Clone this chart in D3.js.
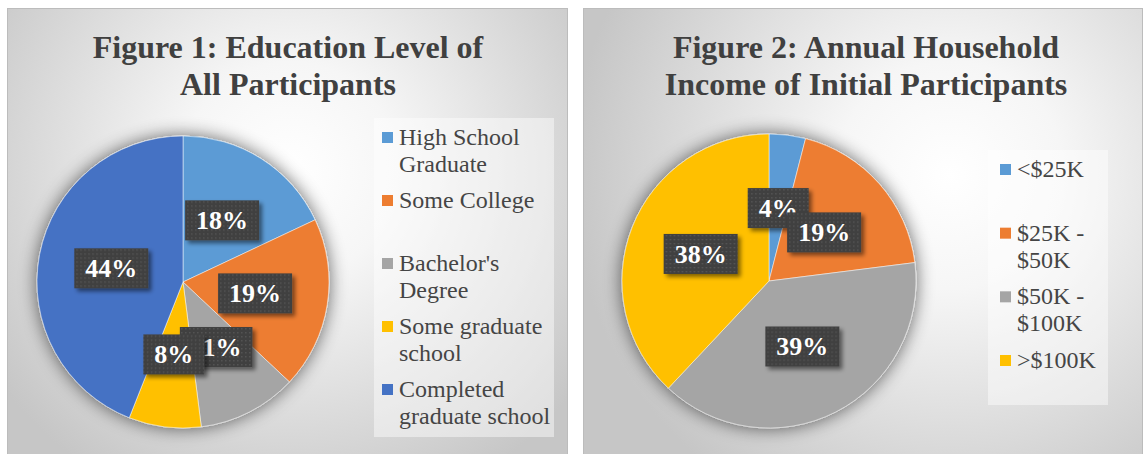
<!DOCTYPE html>
<html>
<head>
<meta charset="utf-8">
<script src="https://cdn.jsdelivr.net/npm/d3@7"></script>
<style>
  body { margin: 0; background: #fff; }
  svg { display: block; }
</style>
</head>
<body>
<div class="canvas"></div>
<script>
// figure 1 data
const eduLabels = ["High School\nGraduate", "Some College", "Bachelor's\nDegree", "Some graduate\nschool", "Completed\ngraduate school"];
const eduValues = [18, 19, 11, 8, 44];
const eduTitle = ["Figure 1: Education Level of", "All Participants"];

// figure 2 data
const incLabels = ["<$25K", "$25K -\n$50K", "$50K -\n$100K", ">$100K"];
const incValues = [4, 19, 39, 38];
const incTitle = ["Figure 2: Annual Household", "Income of Initial Participants"];

const colors = ["#5B9BD5", "#ED7D31", "#A5A5A5", "#FFC000", "#4472C4"];

const W = 1143, H = 454;
const FONT = "'Liberation Serif', 'Times New Roman', Times, 'DejaVu Serif', serif";

const svg = d3.select(".canvas").append("svg")
  .attr("width", W)
  .attr("height", H)
  .attr("font-family", FONT);

const defs = svg.append("defs");

// dotted fill of the data label boxes
const pat = defs.append("pattern")
  .attr("id", "dots")
  .attr("width", 4).attr("height", 4)
  .attr("patternUnits", "userSpaceOnUse");
pat.append("rect").attr("width", 4).attr("height", 4).attr("fill", "#404040");
pat.append("rect").attr("x", 1).attr("y", 1).attr("width", 1.4).attr("height", 1.4).attr("fill", "#575757");

// soft halo under the pies
const halo = defs.append("filter").attr("id", "halo")
  .attr("x", "-25%").attr("y", "-25%").attr("width", "150%").attr("height", "150%");
halo.append("feGaussianBlur").attr("in", "SourceAlpha").attr("stdDeviation", 9).attr("result", "b");
halo.append("feComponentTransfer").attr("in", "b").attr("result", "s")
  .append("feFuncA").attr("type", "linear").attr("slope", 0.6);
let m = halo.append("feMerge");
m.append("feMergeNode").attr("in", "s");
m.append("feMergeNode").attr("in", "SourceGraphic");

// drop shadow of label boxes
const sh = defs.append("filter").attr("id", "boxShadow")
  .attr("x", "-20%").attr("y", "-20%").attr("width", "150%").attr("height", "160%");
sh.append("feGaussianBlur").attr("in", "SourceAlpha").attr("stdDeviation", 2).attr("result", "b");
sh.append("feOffset").attr("in", "b").attr("dx", 3).attr("dy", 3).attr("result", "o");
sh.append("feComponentTransfer").attr("in", "o").attr("result", "s")
  .append("feFuncA").attr("type", "linear").attr("slope", 0.5);
m = sh.append("feMerge");
m.append("feMergeNode").attr("in", "s");
m.append("feMergeNode").attr("in", "SourceGraphic");

function bgGradient(id, cx, cy, r) {
  const g = defs.append("radialGradient").attr("id", id)
    .attr("gradientUnits", "userSpaceOnUse")
    .attr("cx", cx).attr("cy", cy).attr("r", r);
  g.append("stop").attr("offset", 0).attr("stop-color", "#ffffff");
  g.append("stop").attr("offset", 0.3).attr("stop-color", "#f6f6f6");
  g.append("stop").attr("offset", 1).attr("stop-color", "#c6c6c6");
}

function drawPanel(opt) {
  const { x0, x1, title, titleX, labels, values, cx, cy, r, legend } = opt;

  bgGradient(opt.id + "-bg", opt.gcx, opt.gcy, opt.gr);
  svg.append("rect")
    .attr("x", x0 + 0.5).attr("y", 8.5)
    .attr("width", x1 - x0).attr("height", H)
    .attr("fill", `url(#${opt.id}-bg)`)
    .attr("stroke", "#bcbcbc");

  // title
  svg.append("text")
    .attr("x", titleX)
    .attr("text-anchor", "middle")
    .attr("font-family", FONT)
    .attr("font-size", 32)
    .attr("font-weight", "bold")
    .attr("fill", "#404040")
    .selectAll("tspan")
    .data(title)
    .join("tspan")
    .attr("x", titleX)
    .attr("y", (d, i) => 58 + i * 37)
    .text(d => d);

  const pie = d3.pie().sort(null).startAngle(0).endAngle(2 * Math.PI);
  const arcs = pie(values);
  const arc = d3.arc().innerRadius(0).outerRadius(r);
  const color = d3.scaleOrdinal().domain(labels).range(colors);

  const g = svg.append("g").attr("transform", `translate(${cx},${cy})`);
  g.append("g").attr("filter", "url(#halo)")
    .selectAll("path")
    .data(arcs)
    .join("path")
    .attr("d", arc)
    .attr("fill", (d, i) => color(labels[i]))
    .attr("stroke", "#ffffff")
    .attr("stroke-width", 0.5);

  // data labels
  const lab = g.selectAll(".lab")
    .data(arcs)
    .join("g")
    .attr("class", "lab")
    .attr("transform", d => `translate(${arc.centroid(d)})`);
  lab.each(function (d) {
    const sel = d3.select(this);
    const box = sel.append("rect").attr("fill", "url(#dots)").attr("filter", "url(#boxShadow)");
    const t = sel.append("text")
      .attr("text-anchor", "middle")
      .attr("y", 9)
      .attr("font-family", FONT)
      .attr("font-size", 26)
      .attr("font-weight", "bold")
      .attr("fill", "#ffffff")
      .text(d.data + "%");
    const w = t.node().getComputedTextLength() + 22;
    box.attr("x", -w / 2).attr("y", -20).attr("width", w).attr("height", 40);
  });

  // legend
  svg.append("rect")
    .attr("x", legend.x).attr("y", legend.y)
    .attr("width", legend.w).attr("height", legend.h)
    .attr("fill", "#ffffff").attr("fill-opacity", 0.45);

  const ly = d3.scalePoint().domain(labels).range([legend.first, legend.last]);
  const item = svg.selectAll(null)
    .data(labels)
    .join("g")
    .attr("transform", d => `translate(${legend.x + legend.sx},${ly(d)})`);
  item.append("rect")
    .attr("x", 0).attr("y", -13)
    .attr("width", 11).attr("height", 11)
    .attr("fill", d => color(d));
  item.append("text")
    .attr("font-family", FONT)
    .attr("font-size", 24)
    .attr("fill", "#454545")
    .selectAll("tspan")
    .data(d => d.split("\n"))
    .join("tspan")
    .attr("x", 17)
    .attr("y", (d, i) => i * 27)
    .text(d => d);
}

drawPanel({
  id: "p1", x0: 7, x1: 567,
  title: eduTitle, titleX: 288,
  labels: eduLabels, values: eduValues,
  cx: 183, cy: 282, r: 146,
  gcx: 290, gcy: 170, gr: 360,
  legend: { x: 374, y: 118, w: 180, h: 319, sx: 8, first: 145, last: 397 }
});

drawPanel({
  id: "p2", x0: 583, x1: 1142,
  title: incTitle, titleX: 866,
  labels: incLabels, values: incValues,
  cx: 769, cy: 281, r: 147,
  gcx: 950, gcy: 175, gr: 380,
  legend: { x: 988, y: 150, w: 120, h: 255, sx: 12, first: 177, last: 368 }
});
</script>
</body>
</html>
